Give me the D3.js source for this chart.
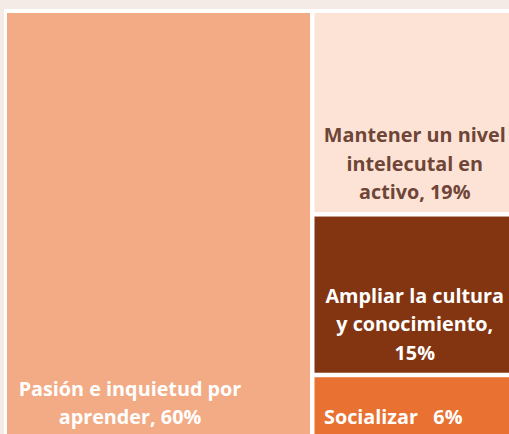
<!DOCTYPE html>
<html>
<head>
<meta charset="utf-8">
<script src="https://cdn.jsdelivr.net/npm/d3@7"></script>
<style>
  body { margin: 0; background: #f5ebe6; overflow: hidden; }
  text { font-family: "Open Sans", sans-serif; font-weight: bold; }
</style>
</head>
<body>
<script>
//chart data
var groups = ["left", "right", "right", "right"];
var labels = [
    ["Pasión e inquietud por", "aprender, 60%"],
    ["Mantener un nivel", "intelecutal en", "activo, 19%"],
    ["Ampliar la cultura", "y conocimiento,", "15%"],
    ["Socializar   6%"]
];
var values = [60, 19, 15, 6];
var colors = ["#f2ab85", "#fce3d6", "#833511", "#e97132"];
var textColors = ["#ffffff", "#6e4536", "#ffffff", "#ffffff"];

window.onload = setChart();

function setChart(){

    var width = 509,
        height = 434;

    var svg = d3.select("body")
        .append("svg")
        .attr("width", width)
        .attr("height", height);

    //white plot panel
    svg.append("rect")
        .attr("x", 4)
        .attr("y", 9)
        .attr("width", width)
        .attr("height", height)
        .attr("fill", "#ffffff");

    //build a two level hierarchy: left column and right column
    var tree = { name: "root", children: [] };
    ["left", "right"].forEach(function(g){
        var kids = [];
        values.forEach(function(v, i){
            if (groups[i] == g) kids.push({ name: i, value: v });
        });
        tree.children.push({ name: g, children: kids });
    });

    var root = d3.hierarchy(tree)
        .sum(function(d){ return d.value || 0; });

    d3.treemap()
        .tile(d3.treemapSliceDice)
        .size([508, 424])
        .paddingInner(4.5)
        .round(false)(root);

    var plot = svg.append("g")
        .attr("transform", "translate(7,13)");

    var leaves = root.leaves();

    var cells = plot.selectAll("g.cell")
        .data(leaves)
        .enter()
        .append("g")
        .attr("class", "cell");

    cells.append("rect")
        .attr("x", function(d){ return d.x0; })
        .attr("y", function(d){ return d.y0; })
        .attr("width", function(d){ return d.x1 - d.x0; })
        .attr("height", function(d){ return d.y1 - d.y0; })
        .attr("fill", function(d){ return colors[d.data.name]; });

    //label offsets inside each cell
    var lineH = 28.5;
    cells.each(function(d){
        var i = d.data.name;
        var lines = labels[i];
        var cx, anchor;
        if (i == 0) { cx = d.x0 + 123; anchor = "middle"; }
        else if (i == 3) { cx = d.x0 + 9.5; anchor = "start"; }
        else { cx = (d.x0 + 508) / 2; anchor = "middle"; }
        var last = d.y1 - 13;
        var t = d3.select(this).append("text")
            .attr("text-anchor", anchor)
            .attr("fill", textColors[i])
            .attr("font-size", 19.8)
            .attr("xml:space", "preserve");
        lines.forEach(function(s, k){
            t.append("tspan")
                .attr("x", cx)
                .attr("y", last - (lines.length - 1 - k) * lineH)
                .text(s);
        });
    });
};
</script>
</body>
</html>
